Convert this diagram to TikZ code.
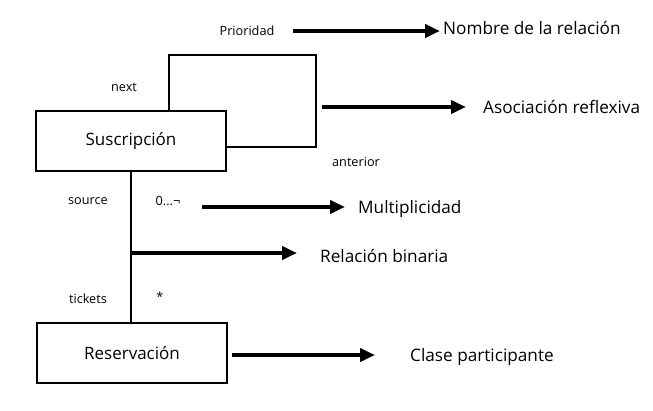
\documentclass[tikz,border=0pt]{standalone}
\usepackage{fontspec}
\setmainfont{Open Sans}
\usetikzlibrary{arrows.meta}
\begin{document}
\begin{tikzpicture}[x=1pt,y=-1pt,
  cls/.style={draw,line width=2.6pt,minimum width=190pt,minimum height=60pt,inner sep=0pt,font=\fontsize{17}{20}\selectfont},
  big/.style={anchor=west,inner sep=0pt,font=\fontsize{17.2}{20}\selectfont},
  small/.style={inner sep=0pt,font=\fontsize{12.7}{15}\selectfont},
  callout/.style={line width=4.5pt,-{Triangle[length=15pt,width=13pt]}},
  assoc/.style={line width=2pt}]
\useasboundingbox (0,0) rectangle (653,410);
\node[cls] (sus) at (131,141) {Suscripción};
\node[cls] (res) at (132,353) {Reservación};
% reflexive loop
\coordinate (l1) at (169,55);
\coordinate (l2) at (316,55);
\coordinate (l3) at (316,147);
\draw[assoc] (sus.north -| l1) -- (l1) -- (l2) -- (l3) -- (l3 -| sus.east);
% binary relation
\draw[assoc] (sus.south -| 131,0) -- (res.north -| 131,0);
% labels
\node[small] (prio) at (247,31) {Prioridad};
\node[small] (next) at (124,87) {next};
\node[small] (ant) at (356,162) {anterior};
\node[small] (src) at (88,201) {source};
\node[small] (mul) at (168,201) {0...¬};
\node[small] (tick) at (88,299) {tickets};
\node[small] (star) at (160,297) {*};
% callout texts
\node[big] (t1) at (443,28) {Nombre de la relación};
\node[big] (t2) at (483,107) {Asociación reflexiva};
\node[big] (t3) at (358,209) {Multiplicidad};
\node[big] (t4) at (320,256) {Relación binaria};
\node[big] (t5) at (410,357) {Clase participante};
% callout arrows
\coordinate (a1) at (293,31);
\coordinate (b1) at (440,31);
\draw[callout] (a1) -- (b1);
\coordinate (a2) at (322,107);
\coordinate (b2) at (466,107);
\draw[callout] (a2) -- (b2);
\coordinate (a3) at (202,207);
\coordinate (b3) at (345,207);
\draw[callout] (a3) -- (b3);
\coordinate (a4) at (132,253);
\coordinate (b4) at (297,253);
\draw[callout] (a4) -- (b4);
\coordinate (a5) at (232,355);
\coordinate (b5) at (375,355);
\draw[callout] (a5) -- (b5);
\end{tikzpicture}
\end{document}
